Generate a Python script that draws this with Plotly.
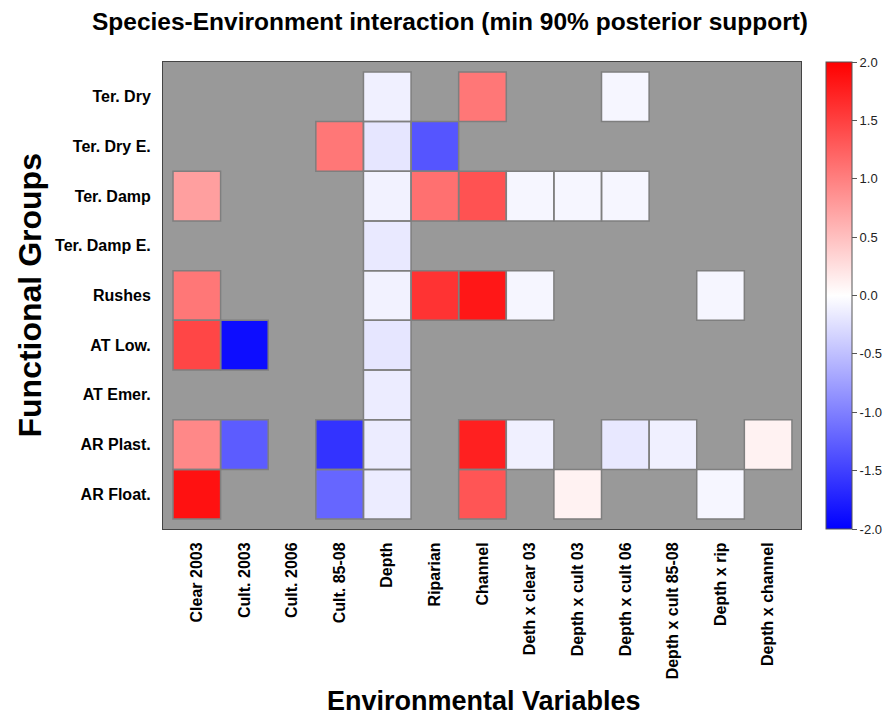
import plotly.graph_objects as go

N = None
env_vars = ["Clear 2003", "Cult. 2003", "Cult. 2006", "Cult. 85-08", "Depth", "Riparian",
            "Channel", "Deth x clear 03", "Depth x cult 03", "Depth x cult 06",
            "Depth x cult 85-08", "Depth x rip", "Depth x channel"]
groups = ["Ter. Dry", "Ter. Dry E.", "Ter. Damp", "Ter. Damp E.", "Rushes",
          "AT Low.", "AT Emer.", "AR Plast.", "AR Float."]

ter_dry      = [N, N, N, N, -0.12, N, 1.07, N, N, -0.07, N, N, N]
ter_dry_e    = [N, N, N, 1.07, -0.2, -1.33, N, N, N, N, N, N, N]
ter_damp     = [0.75, N, N, N, -0.1, 1.12, 1.36, -0.07, -0.07, -0.07, N, N, N]
ter_damp_e   = [N, N, N, N, -0.17, N, N, N, N, N, N, N, N]
rushes       = [1.07, N, N, N, -0.1, 1.6, 1.82, -0.07, N, N, N, -0.07, N]
at_low       = [1.45, -1.9, N, N, -0.2, N, N, N, N, N, N, N, N]
at_emer      = [N, N, N, N, -0.15, N, N, N, N, N, N, N, N]
ar_plast     = [0.93, -1.28, N, -1.6, -0.15, N, 1.75, -0.12, N, -0.18, -0.12, N, 0.1]
ar_float     = [1.87, N, N, -1.2, -0.15, N, 1.33, N, 0.1, N, N, -0.07, N]

z = [ter_dry, ter_dry_e, ter_damp, ter_damp_e, rushes, at_low, at_emer, ar_plast, ar_float]
colorbar_ticks = [-2.0, -1.5, -1.0, -0.5, 0.0, 0.5, 1.0, 1.5, 2.0]

xi = list(range(len(env_vars)))
yi = list(range(len(groups)))

fig = go.Figure()
fig.add_trace(go.Heatmap(
    z=z, x=xi, y=yi,
    zmin=-2, zmax=2,
    colorscale=[[0, "#0000ff"], [0.5, "#ffffff"], [1, "#ff0000"]],
    hoverongaps=False,
    colorbar=dict(
        x=1.039, xanchor="left", xref="paper", xpad=0, ypad=0,
        y=0.5, yanchor="middle", len=1.0, lenmode="fraction",
        thickness=26, outlinewidth=1, outlinecolor="#555555",
        tickvals=colorbar_ticks, ticktext=[f"{v:.1f}" for v in colorbar_ticks],
        ticks="outside", ticklen=5, tickcolor="#555555",
        tickfont=dict(family="Liberation Sans, Arial, sans-serif", size=13, color="#222222"),
    ),
))

# cell borders for drawn cells
for r, row in enumerate(z):
    for c, v in enumerate(row):
        if v is not None:
            fig.add_shape(type="rect", x0=c - 0.5, x1=c + 0.5, y0=r - 0.5, y1=r + 0.5,
                          xref="x", yref="y", line=dict(color="#7f7f7f", width=1.5),
                          fillcolor="rgba(0,0,0,0)", layer="above")

bold = dict(family="Liberation Sans, Arial, sans-serif", color="#000000", weight="bold")

fig.update_layout(
    width=888, height=722,
    margin=dict(l=163, r=87, t=62, b=193, autoexpand=False),
    paper_bgcolor="#ffffff",
    plot_bgcolor="#999999",
    title=dict(text="Species-Environment interaction (min 90% posterior support)",
               x=450 / 888, xanchor="center", y=1 - 21 / 722, yanchor="middle", yref="container",
               font=dict(size=24.5, **bold)),
    xaxis=dict(tickvals=xi, ticktext=env_vars, tickangle=-90, range=[-0.71, 12.69],
               showgrid=False, zeroline=False, ticks="", ticklabelstandoff=6,
               showline=True, mirror=True, linecolor="#444444", linewidth=1,
               tickfont=dict(size=16, **bold)),
    yaxis=dict(tickvals=yi, ticktext=groups, range=[8.7, -0.7],
               showgrid=False, zeroline=False, ticks="", ticklabelstandoff=8,
               showline=True, mirror=True, linecolor="#444444", linewidth=1,
               tickfont=dict(size=16, **bold)),
    annotations=[
        dict(text="Functional Groups", xref="paper", yref="paper",
             x=(29 - 163) / 638, y=0.5, xanchor="center", yanchor="middle",
             textangle=-90, showarrow=False, font=dict(size=32, **bold)),
        dict(text="Environmental Variables", xref="paper", yref="paper",
             x=(484 - 163) / 638, y=(529 - 701) / 467, xanchor="center", yanchor="middle",
             showarrow=False, font=dict(size=27, **bold)),
    ],
)

fig.write_html("out.html")
